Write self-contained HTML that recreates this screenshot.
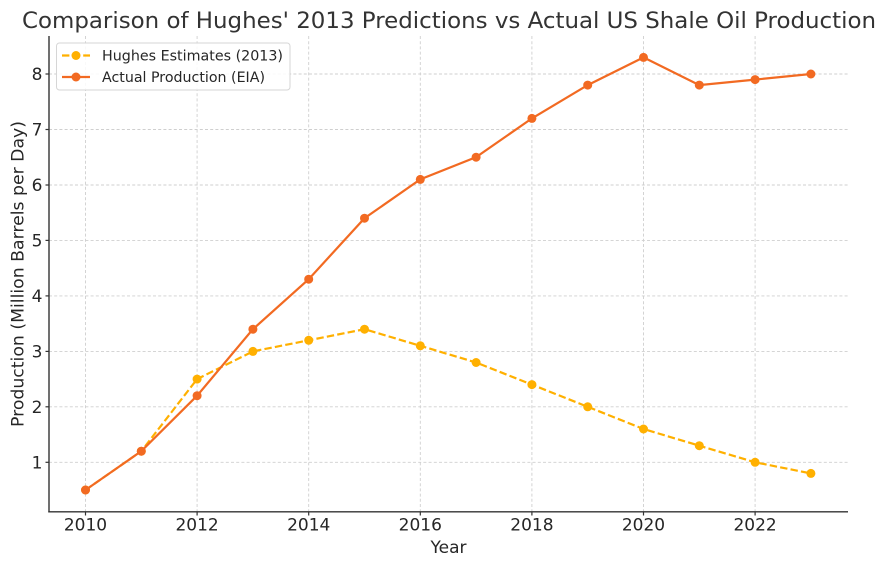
<!DOCTYPE html>
<html><head><meta charset="utf-8"><style>
html,body{margin:0;padding:0;background:#fff;}
svg{display:block;font-family:"DejaVu Sans","Liberation Sans",sans-serif;}
</style></head><body>
<svg width="886" height="567" viewBox="0 0 886 567" xmlns="http://www.w3.org/2000/svg">
<rect width="886" height="567" fill="#fff"/>
<!-- grid -->
<g stroke="#cfcfcf" stroke-width="0.9" stroke-dasharray="3,2.2" fill="none">
<line x1="85.5" y1="36" x2="85.5" y2="512"/>
<line x1="197.1" y1="36" x2="197.1" y2="512"/>
<line x1="308.7" y1="36" x2="308.7" y2="512"/>
<line x1="420.3" y1="36" x2="420.3" y2="512"/>
<line x1="531.9" y1="36" x2="531.9" y2="512"/>
<line x1="643.5" y1="36" x2="643.5" y2="512"/>
<line x1="755.1" y1="36" x2="755.1" y2="512"/>
<line x1="49" y1="462.3" x2="848" y2="462.3"/>
<line x1="49" y1="406.8" x2="848" y2="406.8"/>
<line x1="49" y1="351.4" x2="848" y2="351.4"/>
<line x1="49" y1="295.9" x2="848" y2="295.9"/>
<line x1="49" y1="240.4" x2="848" y2="240.4"/>
<line x1="49" y1="185.0" x2="848" y2="185.0"/>
<line x1="49" y1="129.5" x2="848" y2="129.5"/>
<line x1="49" y1="74.0" x2="848" y2="74.0"/>
</g>
<!-- spines -->
<g stroke="#333" stroke-width="1.4" fill="none">
<line x1="49" y1="36" x2="49" y2="512.4"/>
<line x1="48.3" y1="511.8" x2="848" y2="511.8"/>
</g>
<!-- ticks -->
<g stroke="#333" stroke-width="1.2">
<line x1="85.5" y1="512" x2="85.5" y2="515.5"/>
<line x1="197.1" y1="512" x2="197.1" y2="515.5"/>
<line x1="308.7" y1="512" x2="308.7" y2="515.5"/>
<line x1="420.3" y1="512" x2="420.3" y2="515.5"/>
<line x1="531.9" y1="512" x2="531.9" y2="515.5"/>
<line x1="643.5" y1="512" x2="643.5" y2="515.5"/>
<line x1="755.1" y1="512" x2="755.1" y2="515.5"/>
<line x1="45.5" y1="462.3" x2="49" y2="462.3"/>
<line x1="45.5" y1="406.8" x2="49" y2="406.8"/>
<line x1="45.5" y1="351.4" x2="49" y2="351.4"/>
<line x1="45.5" y1="295.9" x2="49" y2="295.9"/>
<line x1="45.5" y1="240.4" x2="49" y2="240.4"/>
<line x1="45.5" y1="185.0" x2="49" y2="185.0"/>
<line x1="45.5" y1="129.5" x2="49" y2="129.5"/>
<line x1="45.5" y1="74.0" x2="49" y2="74.0"/>
</g>
<!-- tick labels -->
<g fill="#262626" font-size="17" text-anchor="middle">
<text x="85.5" y="530.7">2010</text>
<text x="197.1" y="530.7">2012</text>
<text x="308.7" y="530.7">2014</text>
<text x="420.3" y="530.7">2016</text>
<text x="531.9" y="530.7">2018</text>
<text x="643.5" y="530.7">2020</text>
<text x="755.1" y="530.7">2022</text>
</g>
<g fill="#262626" font-size="17" text-anchor="end">
<text x="42.5" y="468.5">1</text>
<text x="42.5" y="413">2</text>
<text x="42.5" y="357.6">3</text>
<text x="42.5" y="302.1">4</text>
<text x="42.5" y="246.6">5</text>
<text x="42.5" y="191.2">6</text>
<text x="42.5" y="135.7">7</text>
<text x="42.5" y="80.2">8</text>
</g>
<!-- axis labels -->
<text x="448.5" y="553" font-size="17" fill="#262626" text-anchor="middle">Year</text>
<text transform="translate(23.5,274) rotate(-90)" font-size="17" fill="#262626" text-anchor="middle" textLength="306" lengthAdjust="spacingAndGlyphs">Production (Million Barrels per Day)</text>
<!-- title -->
<text x="449" y="28" font-size="22" fill="#333" text-anchor="middle" textLength="854" lengthAdjust="spacingAndGlyphs">Comparison of Hughes' 2013 Predictions vs Actual US Shale Oil Production</text>
<!-- Hughes -->
<polyline fill="none" stroke="#FFB000" stroke-width="2.2" stroke-dasharray="7.4,3.2" points="85.5,490 141.3,451.2 197.1,379.1 252.9,351.4 308.7,340.3 364.5,329.2 420.3,345.8 476.1,362.5 531.9,384.6 587.7,406.8 643.5,429.0 699.3,445.7 755.1,462.3 810.9,473.4"/>
<g fill="#FFB000">
<circle cx="85.5" cy="490" r="4.5"/><circle cx="141.3" cy="451.2" r="4.5"/><circle cx="197.1" cy="379.1" r="4.5"/><circle cx="252.9" cy="351.4" r="4.5"/><circle cx="308.7" cy="340.3" r="4.5"/><circle cx="364.5" cy="329.2" r="4.5"/><circle cx="420.3" cy="345.8" r="4.5"/><circle cx="476.1" cy="362.5" r="4.5"/><circle cx="531.9" cy="384.6" r="4.5"/><circle cx="587.7" cy="406.8" r="4.5"/><circle cx="643.5" cy="429.0" r="4.5"/><circle cx="699.3" cy="445.7" r="4.5"/><circle cx="755.1" cy="462.3" r="4.5"/><circle cx="810.9" cy="473.4" r="4.5"/>
</g>
<!-- Actual -->
<polyline fill="none" stroke="#F26A22" stroke-width="2.2" points="85.5,490 141.3,451.2 197.1,395.7 252.9,329.2 308.7,279.2 364.5,218.2 420.3,179.4 476.1,157.2 531.9,118.4 587.7,85.1 643.5,57.4 699.3,85.1 755.1,79.6 810.9,74.0"/>
<g fill="#F26A22">
<circle cx="85.5" cy="490" r="4.5"/><circle cx="141.3" cy="451.2" r="4.5"/><circle cx="197.1" cy="395.7" r="4.5"/><circle cx="252.9" cy="329.2" r="4.5"/><circle cx="308.7" cy="279.2" r="4.5"/><circle cx="364.5" cy="218.2" r="4.5"/><circle cx="420.3" cy="179.4" r="4.5"/><circle cx="476.1" cy="157.2" r="4.5"/><circle cx="531.9" cy="118.4" r="4.5"/><circle cx="587.7" cy="85.1" r="4.5"/><circle cx="643.5" cy="57.4" r="4.5"/><circle cx="699.3" cy="85.1" r="4.5"/><circle cx="755.1" cy="79.6" r="4.5"/><circle cx="810.9" cy="74.0" r="4.5"/>
</g>
<!-- legend -->
<rect x="56.5" y="43" width="233.5" height="47" rx="3" ry="3" fill="#fff" fill-opacity="0.85" stroke="#d6d6d6" stroke-width="1"/>
<line x1="62" y1="55.5" x2="90" y2="55.5" stroke="#FFB000" stroke-width="2.2" stroke-dasharray="7.4,3.2"/>
<circle cx="76" cy="55.5" r="4.5" fill="#FFB000"/>
<line x1="62" y1="77" x2="90" y2="77" stroke="#F26A22" stroke-width="2.2"/>
<circle cx="76" cy="77" r="4.5" fill="#F26A22"/>
<g fill="#262626" font-size="14.5">
<text x="102" y="60.5" textLength="181" lengthAdjust="spacingAndGlyphs">Hughes Estimates (2013)</text>
<text x="102" y="82" textLength="163" lengthAdjust="spacingAndGlyphs">Actual Production (EIA)</text>
</g>
</svg>
</body></html>
